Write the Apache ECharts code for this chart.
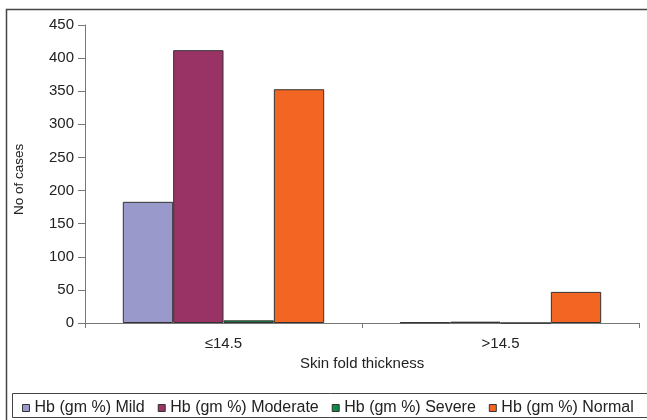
<!DOCTYPE html>
<html><head><meta charset="utf-8">
<script src="https://cdn.jsdelivr.net/npm/echarts@6/dist/echarts.min.js"></script>
<style>html,body{margin:0;padding:0;background:#fff}#c{width:647px;height:420px}</style>
</head><body><div id="c"></div>
<script>
const categories = ['≤14.5', '>14.5'];
const mild = [183, 1];
const moderate = [412, 2];
const severe = [4, 0];
const normal = [353, 47];
const seriesNames = ['Hb (gm %) Mild', 'Hb (gm %) Moderate', 'Hb (gm %) Severe', 'Hb (gm %) Normal'];
const colors = ['#9999cc', '#993366', '#0f8a45', '#f26522'];
const font = 'Liberation Sans, Arial, sans-serif';

const chart = echarts.init(document.getElementById('c'), null, {renderer: 'canvas'});
const mk = (name, data, color) => ({
  name, type: 'bar', data, barGap: '0%', barCategoryGap: '27.3%',
  itemStyle: {color, borderColor: '#333', borderWidth: 1},
  emphasis: {disabled: true}
});
chart.setOption({
  animation: false,
  textStyle: {fontFamily: font},
  grid: {left: 85, right: 8, top: 25, bottom: 97},
  xAxis: {
    type: 'category', data: categories,
    axisLine: {lineStyle: {color: '#777', width: 1}},
    axisTick: {show: true, length: 5, lineStyle: {color: '#777'}},
    axisLabel: {color: '#222', fontSize: 15, margin: 13, fontFamily: font}
  },
  yAxis: {
    type: 'value', min: 0, max: 450, interval: 50,
    axisLine: {show: true, lineStyle: {color: '#777'}},
    axisTick: {show: true, length: 7, lineStyle: {color: '#777'}},
    axisLabel: {color: '#222', fontSize: 15, margin: 11, fontFamily: font},
    splitLine: {show: false}
  },
  legend: {
    left: 17, top: 395, itemWidth: 7, itemHeight: 7, itemGap: 13, icon: 'rect',
    textStyle: {fontSize: 16, color: '#222', fontFamily: font},
    itemStyle: {borderColor: '#333', borderWidth: 1}
  },
  graphic: [
    {type: 'rect', shape: {x: 6.5, y: 9.5, width: 660, height: 430}, style: {fill: 'none', stroke: '#444', lineWidth: 1.5}, silent: true, z: -1},
    {type: 'rect', shape: {x: 12.5, y: 393.5, width: 660, height: 24}, style: {fill: 'none', stroke: '#444', lineWidth: 1}, silent: true, z: -1},
    {type: 'text', left: 300, top: 356, style: {text: 'Skin fold thickness', font: '15px ' + font, fill: '#222'}},
    {type: 'text', x: 12, y: 215, rotation: Math.PI / 2, style: {text: 'No of cases', font: '13.5px ' + font, fill: '#222'}}
  ],
  series: [mk(seriesNames[0], mild, colors[0]), mk(seriesNames[1], moderate, colors[1]), mk(seriesNames[2], severe, colors[2]), mk(seriesNames[3], normal, colors[3])]
});
</script></body></html>
